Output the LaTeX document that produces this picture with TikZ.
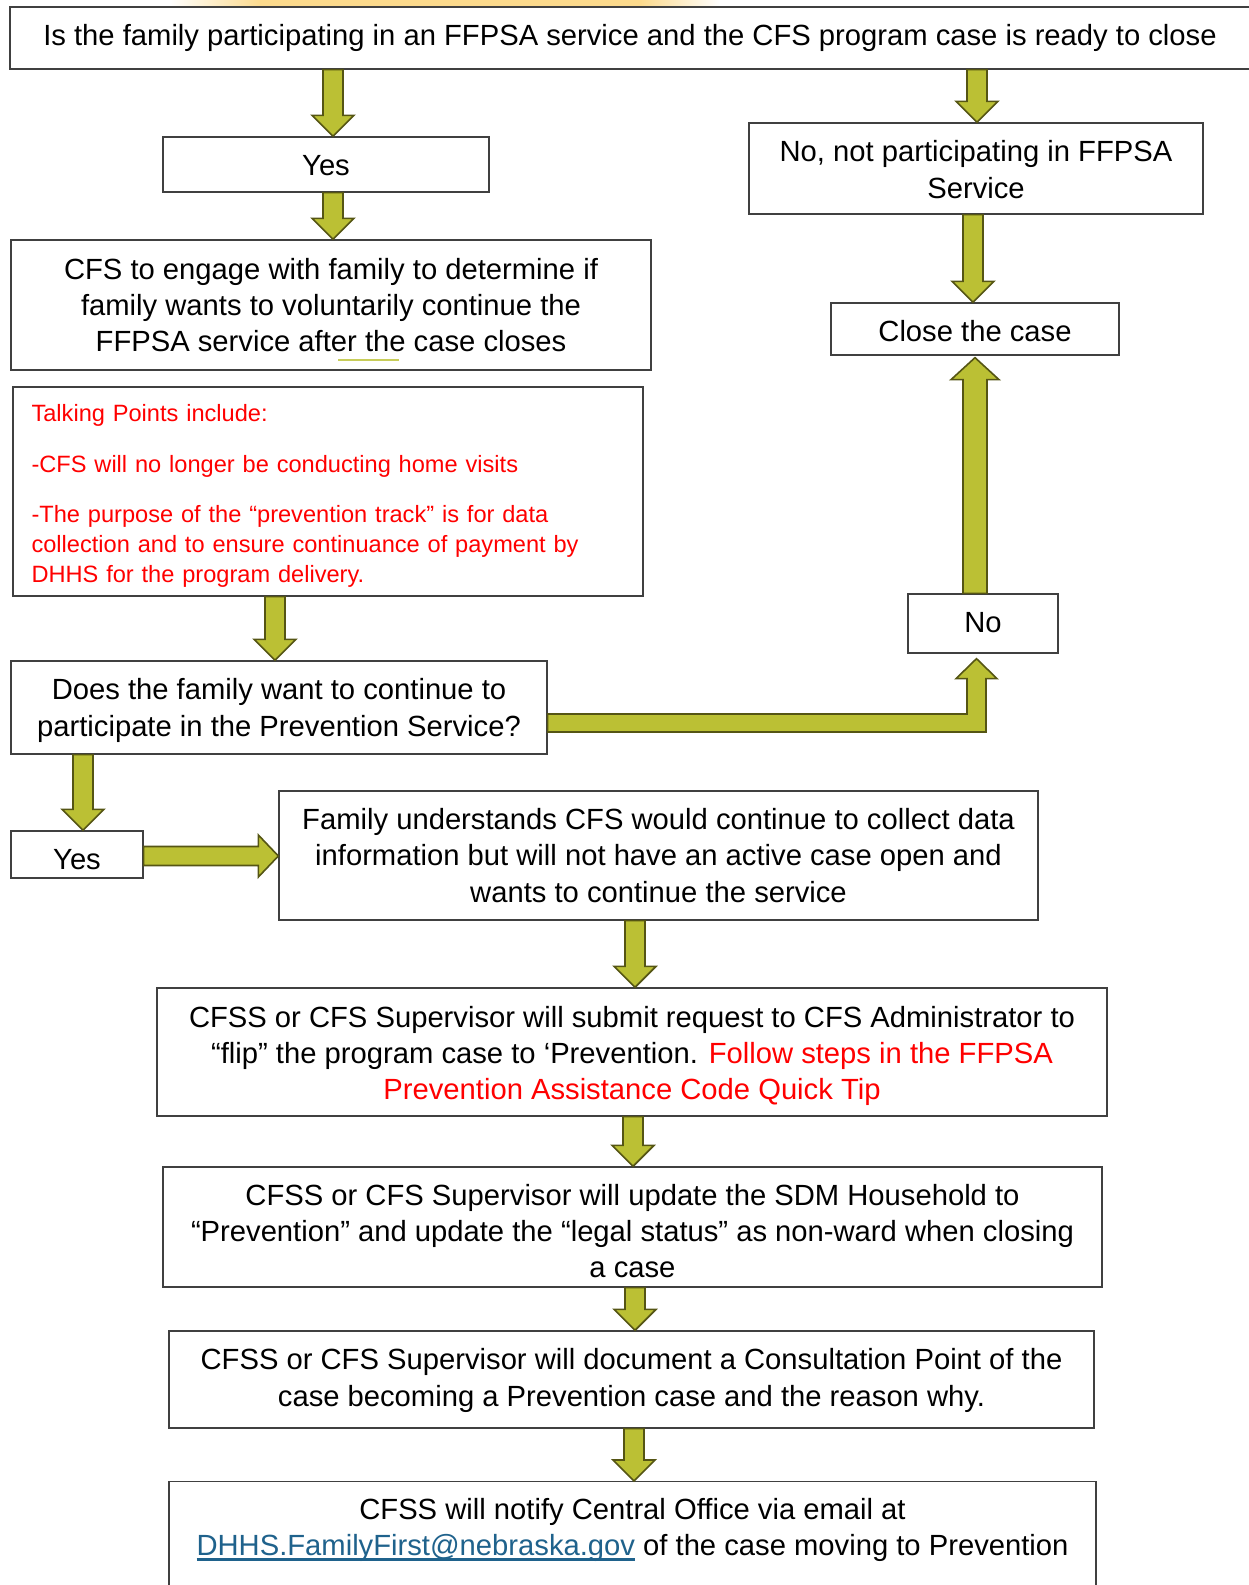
\documentclass[tikz,border=0pt]{standalone}
\usepackage{fontspec}
\setmainfont{Liberation Sans}
\usetikzlibrary{calc}
\definecolor{boxgray}{RGB}{64,64,64}
\definecolor{olivefill}{RGB}{187,192,52}
\definecolor{olivedraw}{RGB}{85,85,20}
\definecolor{linkblue}{RGB}{31,98,140}
\definecolor{glowcol}{RGB}{252,218,140}
\definecolor{strayline}{RGB}{200,205,90}
\newcommand\mainsize{\fontsize{29.2}{36.4}\selectfont}
\newcommand\redsize{\fontsize{23.6}{30}\selectfont}
\tikzset{
  box/.style={draw=boxgray, line width=1.3pt, fill=white, inner sep=0pt},
  txt/.style={inner sep=0pt, align=center, font=\mainsize},
  blockarrow/.style={fill=olivefill, draw=olivedraw, line width=1.6pt, line join=miter}
}
% vertical block arrow pointing down: shaft from #1, tip at #2 (x taken from #1)
\newcommand\blkdown[2]{\filldraw[blockarrow] let \p1=#1, \p2=#2 in
  (\x1-10pt,\y1) -- (\x1-10pt,\y2+21pt) -- (\x1-21pt,\y2+21pt) -- (\x1,\y2)
  -- (\x1+21pt,\y2+21pt) -- (\x1+10pt,\y2+21pt) -- (\x1+10pt,\y1) -- cycle;}
% vertical block arrow pointing up
\newcommand\blkup[2]{\filldraw[blockarrow] let \p1=#1, \p2=#2 in
  (\x1-12pt,\y1) -- (\x1-12pt,\y2-22pt) -- (\x1-24pt,\y2-22pt) -- (\x1,\y2)
  -- (\x1+24pt,\y2-22pt) -- (\x1+12pt,\y2-22pt) -- (\x1+12pt,\y1) -- cycle;}
% horizontal block arrow pointing right
\newcommand\blkright[2]{\filldraw[blockarrow] let \p1=#1, \p2=#2 in
  (\x1,\y1+9.5pt) -- (\x2-20pt,\y1+9.5pt) -- (\x2-20pt,\y1+21pt) -- (\x2,\y1)
  -- (\x2-20pt,\y1-21pt) -- (\x2-20pt,\y1-9.5pt) -- (\x1,\y1-9.5pt) -- cycle;}
% elbow arrow: right then up
\newcommand\blkelbow[2]{\filldraw[blockarrow] let \p1=#1, \p2=#2 in
  (\x1,\y1+9pt) -- (\x2-9.5pt,\y1+9pt) -- (\x2-9.5pt,\y2-20pt) -- (\x2-20.5pt,\y2-20pt)
  -- (\x2,\y2) -- (\x2+20.5pt,\y2-20pt) -- (\x2+9.5pt,\y2-20pt) -- (\x2+9.5pt,\y1-9pt)
  -- (\x1,\y1-9pt) -- cycle;}
\newcommand\emaillink{{\color{linkblue}\setbox0\hbox{DHHS.FamilyFirst@nebraska.gov}\rlap{\rule[-5pt]{\wd0}{2.6pt}}\box0}}
\begin{document}
\begin{tikzpicture}[x=1pt, y=-1pt]
\useasboundingbox (0,0) rectangle (1248,1585);
\fill[white] (0,0) rectangle (1248,1585);
% top glow
\begin{scope}
  \clip (0,0) rectangle (1248,8);
  \shade[left color=white, right color=glowcol] (170,-20) rectangle (262,30);
  \fill[glowcol] (260,-20) rectangle (642,30);
  \shade[left color=glowcol, right color=white] (640,-20) rectangle (720,30);
\end{scope}

% column coordinates
\coordinate (cA) at (333,0);
\coordinate (cB) at (977,0);
\coordinate (cC) at (973,0);
\coordinate (cD) at (275,0);
\coordinate (cE) at (975,0);
\coordinate (cF) at (83,0);
\coordinate (cG) at (635,0);
\coordinate (cH) at (633,0);
\coordinate (cI) at (634,0);
\coordinate (rowE) at (0,723);
\coordinate (rowY) at (0,856);

% boxes
\node[box, minimum width=1242, minimum height=62] (top) at (631,38) {};
\node[box, minimum width=326, minimum height=55] (yes1) at (326,164.5) {};
\node[box, minimum width=454, minimum height=91] (no1) at (976,168.5) {};
\node[box, minimum width=640, minimum height=130] (engage) at (331,305) {};
\node[box, minimum width=288, minimum height=52] (close) at (975,329) {};
\node[box, minimum width=630, minimum height=209] (talk) at (328,491.5) {};
\node[box, minimum width=150, minimum height=59] (no2) at (983,623.5) {};
\node[box, minimum width=536, minimum height=93] (does) at (279,707.5) {};
\node[box, minimum width=132, minimum height=47] (yes2) at (77,854.5) {};
\node[box, minimum width=759, minimum height=129] (family) at (658.5,855.5) {};
\node[box, minimum width=950, minimum height=128] (submit) at (632,1052) {};
\node[box, minimum width=939, minimum height=120] (sdm) at (632.5,1227) {};
\node[box, minimum width=925, minimum height=97] (consult) at (631.5,1379.5) {};
\node[box, minimum width=927, minimum height=130, anchor=north] (final) at (632.5,1481) {};

% texts
\node[txt] (topT) at ($(top)+(-1,0)$)
  {Is the family participating in an FFPSA service and the CFS program case is ready to close};
\node[txt] (yes1T) at ($(yes1)+(0,1)$) {Yes};
\node[txt] (no1T) at ($(no1)+(0,1)$) {No, not participating in FFPSA\\Service};
\node[txt] (engageT) at (engage)
  {CFS to engage with family to determine if\\family wants to voluntarily continue the\\FFPSA service after the case closes};
\node[txt] (closeT) at ($(close)+(0,2)$) {Close the case};
\node[txt, align=left, text=red, font=\redsize, text width=592, anchor=west] (talkT) at ($(talk.west)+(19,4)$)
  {Talking Points include:\\[21pt]
   -CFS will no longer be conducting home visits\\[20pt]
   -The purpose of the “prevention track” is for data\\
   collection and to ensure continuance of payment by\\
   DHHS for the program delivery.};
\node[txt] (no2T) at ($(no2)+(0,-1)$) {No};
\node[txt] (doesT) at ($(does)+(0,3)$)
  {Does the family want to continue to\\participate in the Prevention Service?};
\node[txt] (yes2T) at ($(yes2)+(0,5)$) {Yes};
\node[txt] (familyT) at (family)
  {Family understands CFS would continue to collect data\\information but will not have an active case open and\\wants to continue the service};
\node[txt] (submitT) at ($(submit)+(0,4)$)
  {CFSS or CFS Supervisor will submit request to CFS Administrator to\\“flip” the program case to ‘Prevention. {\color{red}Follow steps in the FFPSA}\\{\color{red}Prevention Assistance Code Quick Tip}};
\node[txt] (sdmT) at ($(sdm)+(0,4)$)
  {CFSS or CFS Supervisor will update the SDM Household to\\“Prevention” and update the “legal status” as non-ward when closing\\a case};
\node[txt] (consultT) at ($(consult)+(0,1)$)
  {CFSS or CFS Supervisor will document a Consultation Point of the\\case becoming a Prevention case and the reason why.};
\node[txt] (finalT) at (632.5,1530)
  {CFSS will notify Central Office via email at\\\emaillink{} of the case moving to Prevention};

% stray underline mark
\draw[strayline, line width=1.5pt] (338,360) -- (399,360);

% arrows
\blkdown{(top.south -| cA)}{(yes1.north -| cA)}
\blkdown{(top.south -| cB)}{(no1.north -| cB)}
\blkdown{(yes1.south -| cA)}{(engage.north -| cA)}
\blkdown{(no1.south -| cC)}{(close.north -| cC)}
\blkdown{(talk.south -| cD)}{(does.north -| cD)}
\blkup{(no2.north -| cE)}{($(close.south -| cE)+(0,2)$)}
\blkelbow{(does.east |- rowE)}{($(no2.south)+(-6.5,5)$)}
\blkdown{(does.south -| cF)}{(yes2.north -| cF)}
\blkright{(yes2.east |- rowY)}{(family.west |- rowY)}
\blkdown{(family.south -| cG)}{(submit.north -| cG)}
\blkdown{(submit.south -| cH)}{(sdm.north -| cH)}
\blkdown{(sdm.south -| cG)}{(consult.north -| cG)}
\blkdown{(consult.south -| cI)}{(final.north -| cI)}
\end{tikzpicture}
\end{document}
